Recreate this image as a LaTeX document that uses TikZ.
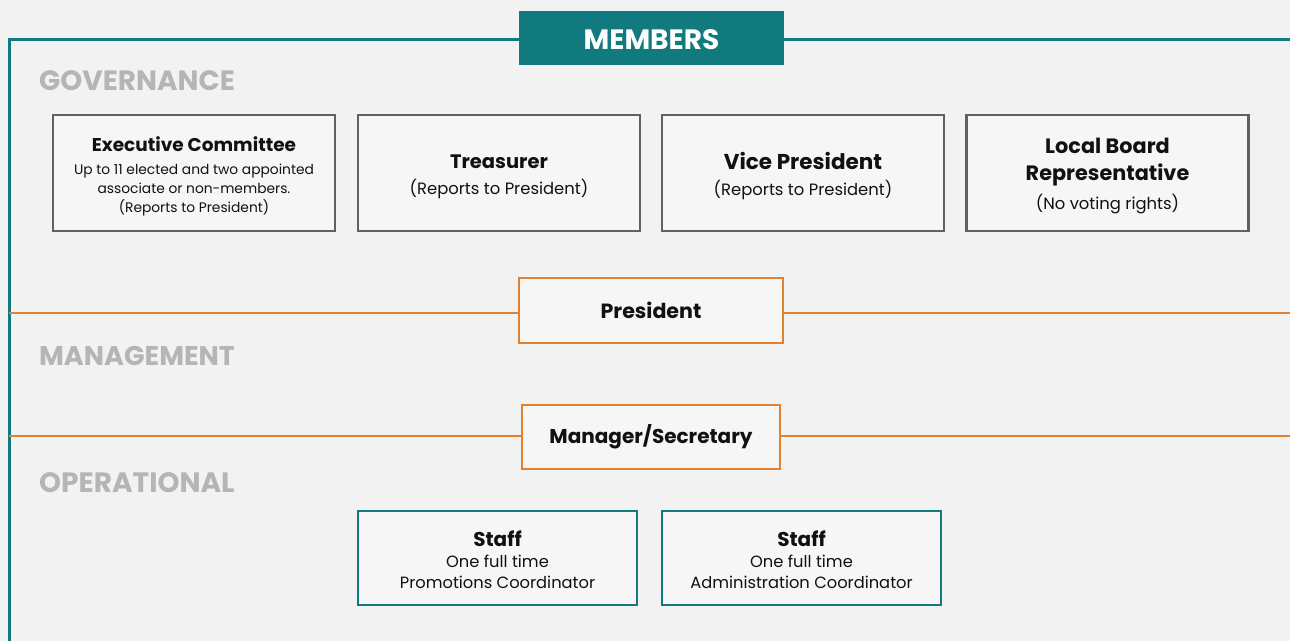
\documentclass[tikz,border=0pt]{standalone}
\usepackage{fontspec}
\setmainfont{Poppins}
\definecolor{bgc}{HTML}{F2F2F2}
\definecolor{boxfill}{HTML}{F6F6F6}
\definecolor{teal}{HTML}{117A7E}
\definecolor{orng}{HTML}{E2812F}
\definecolor{darkgray}{HTML}{616161}
\definecolor{tiergray}{HTML}{B5B5B5}
\definecolor{ink}{HTML}{111111}
% title and body type for the boxes
\newcommand{\ttlf}{\fontsize{19.5}{27}\selectfont\bfseries}
\newcommand{\bodyf}{\fontsize{13.8}{19}\selectfont\mdseries}
\newcommand{\subf}{\fontsize{16.4}{20}\selectfont\mdseries}
\newcommand{\staffttl}{\fontsize{20}{22}\selectfont\bfseries}
\newcommand{\staffbody}{\fontsize{16.3}{21}\selectfont\mdseries}
% centred block of paragraphs inside a box; #1 = extra space on top
\newcommand{\boxtext}[2]{\parbox{275pt}{\centering\vspace*{#1}#2\par}}
\tikzset{
  x=1pt, y=-1pt,
  govbox/.style={draw=darkgray, line width=2.6pt, fill=boxfill, minimum width=282pt, minimum height=116pt, inner sep=0pt, text=ink},
  mgmtbox/.style={draw=orng, line width=2.6pt, fill=boxfill, inner sep=0pt, text=ink, font=\fontsize{20}{24}\selectfont\bfseries},
  staffbox/.style={draw=teal, line width=2.6pt, fill=boxfill, minimum width=279pt, minimum height=92pt, inner sep=0pt, text=ink},
  tier/.style={anchor=west, text=tiergray, inner sep=0pt},
  framerule/.style={draw=teal, line width=3pt},
  levelrule/.style={draw=orng, line width=2.6pt},
}
\begin{document}
\begin{tikzpicture}
  % page background
  \fill[bgc] (0,0) rectangle (1290,641);
  \useasboundingbox (0,0) rectangle (1290,641);

  % frame corners and rule ends
  \coordinate (fbot) at (9,641);
  \coordinate (ftop) at (9,39);
  \coordinate (fright) at (1290,39);
  \coordinate (pl) at (9,313);
  \coordinate (pr) at (1290,313);
  \coordinate (ml) at (9,436);
  \coordinate (mr) at (1290,436);

  % header
  \node[fill=teal, minimum width=265pt, minimum height=54pt, inner sep=0pt, text=white,
        text height=23.6pt, text depth=0pt,
        font=\fontsize{28}{30}\selectfont\bfseries] (members) at (651.5,38) {MEMBERS};

  % tier labels
  \node[tier, font=\fontsize{27.9}{30}\selectfont\bfseries] (gov) at (39,81) {GOVERNANCE};
  \node[tier, font=\fontsize{27}{30}\selectfont\bfseries] (mgmt) at (39,356) {MANAGEMENT};
  \node[tier, font=\fontsize{28}{30}\selectfont\bfseries] (ops) at (39,483) {OPERATIONAL};

  % governance boxes
  \node[govbox] (exec) at (194,173) {\boxtext{6pt}{\fontsize{18.5}{24}\selectfont\bfseries Executive Committee\par
     \vspace{4pt}\bodyf Up to 11 elected and two appointed\\
     associate or non-members.\\
     (Reports to President)}};
  \node[govbox] (treas) at (499,173) {\boxtext{8pt}{\ttlf Treasurer\par \vspace{6pt}\subf (Reports to President)}};
  \node[govbox] (vp) at (803,173) {\boxtext{6pt}{\fontsize{21.5}{27}\selectfont\bfseries Vice President\par \vspace{6pt}\subf (Reports to President)}};
  \node[govbox] (lbr) at (1107.5,173) {\boxtext{6pt}{\fontsize{20.8}{27}\selectfont\bfseries Local Board\\ Representative\par \vspace{7pt}\subf (No voting rights)}};

  % management boxes
  \node[mgmtbox, minimum width=264pt, minimum height=65pt, font=\fontsize{20.6}{24}\selectfont\bfseries] (pres) at (651,310.5) {President};
  \node[mgmtbox, minimum width=258pt, minimum height=64pt] (mgr) at (651,437) {Manager/Secretary};

  % staff boxes
  \node[staffbox, minimum height=94pt] (staffa) at (497.5,558) {\boxtext{4pt}{\staffttl Staff\par \staffbody One full time\\ Promotions Coordinator}};
  \node[staffbox, minimum height=94pt] (staffb) at (801.5,558) {\boxtext{4pt}{\staffttl Staff\par \staffbody One full time\\ Administration Coordinator}};

  % frame rules
  \draw[framerule] (fbot) -- (ftop) -- (members.west |- ftop);
  \draw[framerule] (members.east |- fright) -- (fright);
  \draw[levelrule] (pl) -- (pres.west |- pl);
  \draw[levelrule] (pres.east |- pr) -- (pr);
  \draw[levelrule] (ml) -- (mgr.west |- ml);
  \draw[levelrule] (mgr.east |- mr) -- (mr);
\end{tikzpicture}
\end{document}
